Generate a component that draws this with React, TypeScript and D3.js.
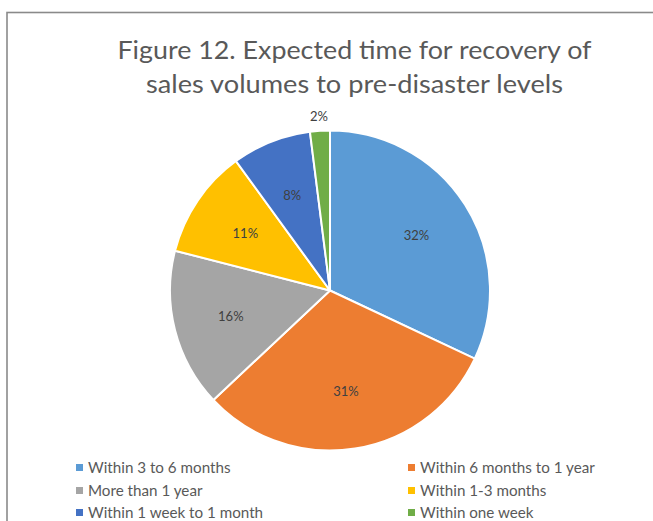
import React from "react";
import * as d3 from "d3";

const categories = [
  "Within 3 to 6 months",
  "Within 6 months to 1 year",
  "More than 1 year",
  "Within 1-3 months",
  "Within 1 week to 1 month",
  "Within one week",
];
const values = [32, 31, 16, 11, 8, 2];
const labels = ["32%", "31%", "16%", "11%", "8%", "2%"];
const colors = ["#5B9BD5", "#ED7D31", "#A5A5A5", "#FFC000", "#4472C4", "#70AD47"];
const titleLines = ["Figure 12. Expected time for recovery of", "sales volumes to pre-disaster levels"];
const titleWidths = [474, 417];

const W = 653;
const H = 521;
const FONT = "Lato, 'Open Sans', sans-serif";

export default function App() {
  const cx = 330;
  const cy = 290.5;
  const r = 160;
  const pie = d3.pie<number>().sort(null).value((d) => d);
  const arcs = pie(values);
  const arc = d3.arc<d3.PieArcDatum<number>>().innerRadius(0).outerRadius(r);
  const labelArc = d3.arc<d3.PieArcDatum<number>>().innerRadius(r * 0.64).outerRadius(r * 0.64);
  const outerArc = d3.arc<d3.PieArcDatum<number>>().innerRadius(r * 1.09).outerRadius(r * 1.09);

  const legendCols = [76, 408];
  const legendRows = [468, 491, 513];

  return (
    <svg width={W} height={H} style={{ position: "absolute", left: 0, top: 0, background: "#fff" }}>
      <rect x={7} y={12.5} width={800} height={700} fill="#fff" stroke="#8a8a8a" strokeWidth={1.6} />
      <g fontFamily={FONT} fill="#595959" fontSize={25} fontWeight={400} textAnchor="middle">
        {titleLines.map((t, i) => (
          <text key={i} x={354.5} y={59 + i * 34} textLength={titleWidths[i]} lengthAdjust="spacingAndGlyphs">{t}</text>
        ))}
      </g>
      <g transform={`translate(${cx},${cy})`}>
        {arcs.map((a, i) => (
          <path key={i} d={arc(a) || ""} fill={colors[i]} stroke="#fff" strokeWidth={2} />
        ))}
        {arcs.map((a, i) => {
          const small = values[i] < 5;
          const [x, y] = small ? outerArc.centroid(a) : labelArc.centroid(a);
          return (
            <text key={i} x={x} y={y} dy="0.35em" textAnchor="middle" fontFamily={FONT} fontSize={13} fill="#404040">
              {labels[i]}
            </text>
          );
        })}
      </g>
      <g fontFamily={FONT} fontSize={15.2} fill="#595959">
        {categories.map((c, i) => {
          const col = i % 2;
          const row = Math.floor(i / 2);
          const x = legendCols[col];
          const y = legendRows[row];
          return (
            <g key={i}>
              <rect x={x} y={y - 4} width={7} height={7} fill={colors[i]} />
              <text x={x + 12} y={y} dy="0.35em">{c}</text>
            </g>
          );
        })}
      </g>
    </svg>
  );
}
